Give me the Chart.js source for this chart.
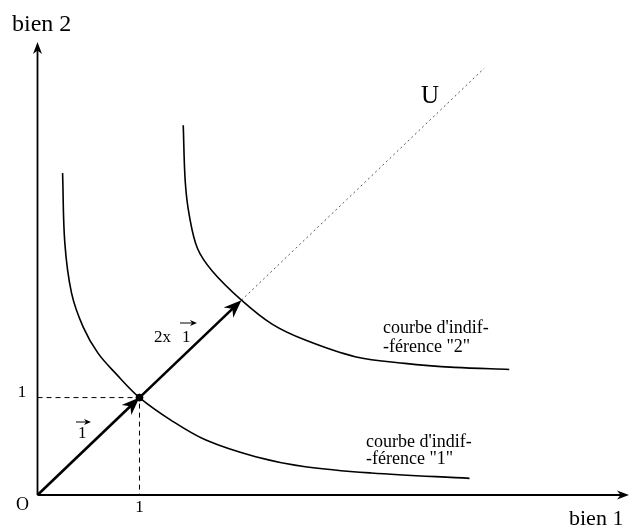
<!DOCTYPE html>
<html>
<head>
<meta charset="utf-8">
<script src="https://cdn.jsdelivr.net/npm/chart.js@4.4.1/dist/chart.umd.min.js"></script>
<style>
  body { margin: 0; background: #fff; }
  canvas { display: block; }
</style>
</head>
<body>
<canvas id="myChart" width="634" height="531"></canvas>
<script>
// indifference curve "1" (passes through 1,1)
const curve1X = [0.246, 0.268, 0.334, 0.447, 0.593, 0.773, 1.0, 1.322, 1.651, 2.139, 2.626, 3.273, 4.236];
const curve1Y = [3.306, 2.585, 2.072, 1.726, 1.456, 1.241, 1.0, 0.759, 0.564, 0.393, 0.290, 0.226, 0.171];
// indifference curve "2" (passes through 2,2)
const curve2X = [1.429, 1.449, 1.488, 1.569, 1.715, 2.0, 2.300, 2.626, 3.114, 3.602, 4.090, 4.626];
const curve2Y = [3.795, 3.213, 2.872, 2.530, 2.297, 2.0, 1.754, 1.590, 1.420, 1.351, 1.310, 1.289];
// utility ray U
const rayX = [2, 4.38];
const rayY = [2, 4.38];
// vectors 1 and 2x1
const vecStart = [[0, 0], [1, 1]];
const vecEnd = [[1, 1], [2, 2]];
// axis extent
const xMax = 5.8;
const yMax = 4.65;

const pts = (xs, ys) => xs.map((x, i) => ({ x: x, y: ys[i] }));
const serif = '"Liberation Serif", "Times New Roman", serif';

function arrowHead(c, x1, y1, x2, y2, len, wid) {
  const a = Math.atan2(y2 - y1, x2 - x1);
  const ca = Math.cos(a), sa = Math.sin(a);
  c.beginPath();
  c.moveTo(x2, y2);
  c.lineTo(x2 - len * ca + wid * sa, y2 - len * sa - wid * ca);
  c.lineTo(x2 - len * 0.7 * ca, y2 - len * 0.7 * sa);
  c.lineTo(x2 - len * ca - wid * sa, y2 - len * sa + wid * ca);
  c.closePath();
  c.fill();
}

function arrow(c, x1, y1, x2, y2, lw, len, wid) {
  const a = Math.atan2(y2 - y1, x2 - x1);
  c.lineWidth = lw;
  c.beginPath();
  c.moveTo(x1, y1);
  c.lineTo(x2 - len * 0.6 * Math.cos(a), y2 - len * 0.6 * Math.sin(a));
  c.stroke();
  arrowHead(c, x1, y1, x2, y2, len, wid);
}

const drawExtras = {
  id: 'drawExtras',
  afterDatasetsDraw(chart) {
    const c = chart.ctx;
    const xs = chart.scales.x, ys = chart.scales.y;
    c.save();
    c.strokeStyle = '#000';
    c.fillStyle = '#000';
    // axes
    const ox = xs.getPixelForValue(0), oy = ys.getPixelForValue(0);
    arrow(c, ox, oy, xs.getPixelForValue(xMax), oy, 1.8, 12, 4.5);
    arrow(c, ox, oy, ox, ys.getPixelForValue(yMax), 1.8, 12, 4.5);
    // vectors
    vecStart.forEach((s, i) => {
      const e = vecEnd[i];
      arrow(c, xs.getPixelForValue(s[0]), ys.getPixelForValue(s[1]),
        xs.getPixelForValue(e[0]), ys.getPixelForValue(e[1]), 2.6, 18, 7);
    });

    // texts
    c.textBaseline = 'alphabetic';
    c.textAlign = 'left';
    c.font = '24px ' + serif;
    c.fillText('bien 2', 12, 31);
    c.font = '22px ' + serif;
    c.fillText('bien 1', 569, 525);
    c.font = '18px ' + serif;
    c.textAlign = 'center';
    c.fillText('O', 22.5, 510);
    c.font = '17px ' + serif;
    c.fillText('1', xs.getPixelForValue(1), 512);
    c.fillText('1', 22, 397);
    c.textAlign = 'left';
    c.fillText('1', 78, 438);
    arrow(c, 76, 422, 91, 422, 1, 7, 3);
    c.fillText('2x', 154, 342);
    c.fillText('1', 182, 342);
    arrow(c, 180, 323, 197, 323, 1, 7, 3);
    c.font = '25px ' + serif;
    c.fillText('U', 421, 103);
    c.font = '18px ' + serif;
    c.fillText("courbe d'indif-", 383, 333);
    c.fillText('-férence "2"', 383, 352);
    c.fillText("courbe d'indif-", 366, 447);
    c.fillText('-férence "1"', 366, 464);
    c.restore();
  }
};

new Chart(document.getElementById('myChart'), {
  type: 'scatter',
  data: {
    datasets: [
      {
        data: pts(curve1X, curve1Y),
        showLine: true, borderColor: '#000', borderWidth: 1.6,
        pointRadius: 0, tension: 0.35, clip: false
      },
      {
        data: pts(curve2X, curve2Y),
        showLine: true, borderColor: '#000', borderWidth: 1.6,
        pointRadius: 0, tension: 0.35, clip: false
      },
      {
        data: pts(rayX, rayY),
        showLine: true, borderColor: '#555', borderWidth: 1,
        borderDash: [2, 3], pointRadius: 0, clip: false
      },
      {
        data: [{ x: 0, y: 1 }, { x: 1, y: 1 }, { x: 1, y: 0 }],
        showLine: true, borderColor: '#000', borderWidth: 1,
        borderDash: [5, 4], pointRadius: 0, clip: false
      },
      {
        data: [{ x: 1, y: 1 }],
        pointRadius: 3.5, backgroundColor: '#000', borderColor: '#000', clip: false
      }
    ]
  },
  options: {
    responsive: false,
    animation: false,
    layout: { padding: { left: 37.5, right: 2, top: 42, bottom: 36 } },
    scales: {
      x: { type: 'linear', min: 0, max: xMax, display: false },
      y: { type: 'linear', min: 0, max: yMax, display: false }
    },
    plugins: { legend: { display: false }, tooltip: { enabled: false } }
  },
  plugins: [drawExtras]
});
</script>
</body>
</html>
